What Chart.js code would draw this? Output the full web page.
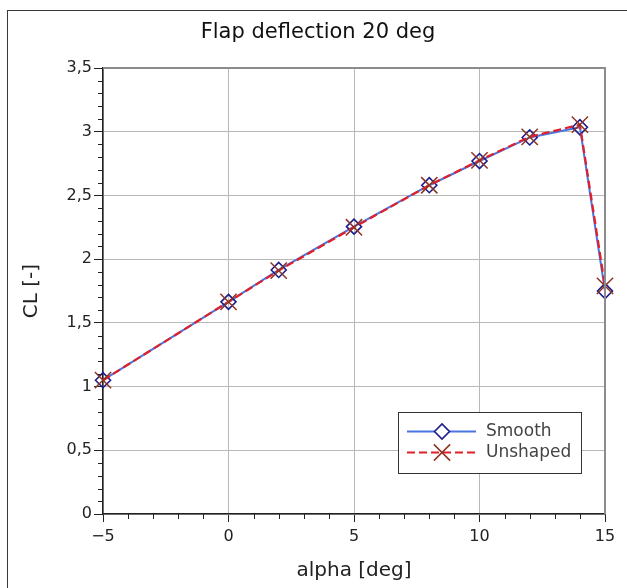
<!DOCTYPE html>
<html>
<head>
<meta charset="utf-8">
<script src="https://cdn.jsdelivr.net/npm/chart.js@4.4.1/dist/chart.umd.min.js"></script>
<style>
  body { margin: 0; background: #fff; }
  #wrap { position: relative; width: 627px; height: 588px; overflow: hidden; }
  #wrap canvas { position: absolute; left: 0; top: 0; }
  #frame { position: absolute; left: 7px; top: 10px; width: 640px; height: 600px;
           border-left: 1px solid #3a3a3a; border-top: 1px solid #3a3a3a; pointer-events: none; }
</style>
</head>
<body>
<div id="wrap">
  <canvas id="cl-chart" width="627" height="588"></canvas>
  <div id="frame"></div>
</div>
<script>
// Lift coefficient vs angle of attack, flap at 20 deg
const alpha = [-5, 0, 2, 5, 8, 10, 12, 14, 15];
const clSmooth = [1.05, 1.665, 1.915, 2.255, 2.58, 2.77, 2.955, 3.035, 1.75];
const clUnshaped = [1.05, 1.665, 1.91, 2.25, 2.58, 2.775, 2.96, 3.055, 1.79];
const seriesNames = ['Smooth', 'Unshaped'];
const chartTitle = 'Flap deflection 20 deg';

const FONT = "'DejaVu Sans', sans-serif";
const GRID = '#b8b8b8';
const AXIS = '#222';

Chart.defaults.font.family = FONT;
Chart.defaults.color = '#222';

const isMajorX = v => Math.abs(Math.round(v) % 5) === 0;
const isMajorY = v => Math.abs(v * 2 - Math.round(v * 2)) < 1e-6;
const fmt = v => String(Math.round(v * 10) / 10).replace('.', ',').replace('-', '\u2212');

const toPoints = ys => alpha.map((a, i) => ({ x: a, y: ys[i] }));

// title sits a little right of the canvas centre, so it is drawn by hand
const plotTitle = {
    id: 'plotTitle',
    afterDraw(chart) {
        const { ctx } = chart;
        ctx.save();
        ctx.fillStyle = '#111';
        ctx.font = '21px ' + FONT;
        ctx.textAlign = 'center';
        ctx.textBaseline = 'middle';
        ctx.fillText(chartTitle, 318, 33);
        ctx.restore();
    }
};

// short unlabeled ticks between the major ones, plus the grey top/right box edges
const minorTicks = {
    id: 'minorTicks',
    afterDraw(chart) {
        const { ctx, chartArea, scales: { x, y } } = chart;
        ctx.save();
        ctx.strokeStyle = AXIS;
        ctx.lineWidth = 1;
        ctx.beginPath();
        x.ticks.forEach(t => {
            if (isMajorX(t.value)) return;
            const px = Math.round(x.getPixelForValue(t.value)) + 0.5;
            ctx.moveTo(px, chartArea.bottom);
            ctx.lineTo(px, chartArea.bottom + 5);
        });
        y.ticks.forEach(t => {
            if (isMajorY(t.value)) return;
            const py = Math.round(y.getPixelForValue(t.value)) + 0.5;
            ctx.moveTo(chartArea.left - 5, py);
            ctx.lineTo(chartArea.left, py);
        });
        ctx.stroke();

        ctx.strokeStyle = '#8c8c8c';
        ctx.lineWidth = 2;
        ctx.beginPath();
        ctx.moveTo(chartArea.left, chartArea.top);
        ctx.lineTo(chartArea.right, chartArea.top);
        ctx.lineTo(chartArea.right, chartArea.bottom);
        ctx.stroke();
        ctx.restore();
    }
};

// boxed legend in the lower right of the plot, line sample with its marker
const boxLegend = {
    id: 'boxLegend',
    afterDraw(chart) {
        const { ctx, chartArea } = chart;
        const w = 183, h = 61;
        const left = chartArea.right - 24 - w;
        const top = chartArea.bottom - 41 - h;
        ctx.save();
        ctx.fillStyle = '#fff';
        ctx.fillRect(left, top, w, h);
        ctx.strokeStyle = '#333';
        ctx.lineWidth = 1;
        ctx.strokeRect(left + 0.5, top + 0.5, w, h);

        chart.data.datasets.forEach((ds, i) => {
            const rowY = top + 19.5 + i * 21;
            const x0 = left + 9, x1 = left + 78, xm = left + 44;
            ctx.strokeStyle = ds.borderColor;
            ctx.lineWidth = ds.borderWidth;
            ctx.setLineDash(ds.borderDash || []);
            ctx.beginPath();
            ctx.moveTo(x0, rowY);
            ctx.lineTo(x1, rowY);
            ctx.stroke();
            ctx.setLineDash([]);
            ctx.strokeStyle = ds.pointBorderColor;
            ctx.fillStyle = '#fff';
            ctx.lineWidth = ds.pointBorderWidth;
            Chart.helpers.drawPoint(ctx, {
                pointStyle: ds.pointStyle,
                radius: ds.pointRadius,
                rotation: 0,
                borderWidth: ds.pointBorderWidth
            }, xm, rowY);

            ctx.fillStyle = '#444';
            ctx.font = '17px ' + FONT;
            ctx.textBaseline = 'middle';
            ctx.textAlign = 'left';
            ctx.fillText(ds.label, left + 88, rowY);
        });
        ctx.restore();
    }
};

new Chart(document.getElementById('cl-chart'), {
    type: 'line',
    data: {
        datasets: [
            {
                label: seriesNames[0],
                data: toPoints(clSmooth),
                borderColor: '#4a74e0',
                borderWidth: 2,
                pointStyle: 'rectRot',
                pointRadius: 7.5,
                pointBorderColor: '#1c1c8c',
                pointBackgroundColor: 'rgba(0,0,0,0)',
                pointBorderWidth: 1.6,
                tension: 0,
                clip: false,
                order: 2
            },
            {
                label: seriesNames[1],
                data: toPoints(clUnshaped),
                borderColor: '#e0202a',
                borderWidth: 2.2,
                borderDash: [8, 4],
                pointStyle: 'crossRot',
                pointRadius: 11.5,
                pointBorderColor: '#8e3424',
                pointBackgroundColor: 'rgba(0,0,0,0)',
                pointBorderWidth: 1.5,
                tension: 0,
                clip: false,
                order: 1
            }
        ]
    },
    options: {
        responsive: false,
        animation: false,
        events: [],
        layout: { padding: { left: 0, right: 22, top: 68, bottom: 0 } },
        plugins: {
            legend: { display: false },
            tooltip: { enabled: false },
            title: { display: false }
        },
        scales: {
            x: {
                type: 'linear',
                min: -5,
                max: 15,
                afterFit: s => { s.height = 74; },
                ticks: {
                    stepSize: 1,
                    autoSkip: false,
                    maxRotation: 0,
                    padding: 5,
                    font: { size: 16 },
                    color: '#222',
                    callback: v => isMajorX(v) ? fmt(v) : ''
                },
                grid: {
                    color: c => (c.tick && isMajorX(c.tick.value)) ? GRID : 'rgba(0,0,0,0)',
                    tickColor: c => (c.tick && isMajorX(c.tick.value)) ? AXIS : 'rgba(0,0,0,0)',
                    tickLength: 8,
                    lineWidth: 1
                },
                border: { color: AXIS, width: 1.5 },
                title: {
                    display: true,
                    text: 'alpha [deg]',
                    color: '#222',
                    font: { size: 20 },
                    padding: { top: 0, bottom: 5 }
                }
            },
            y: {
                type: 'linear',
                min: 0,
                max: 3.5,
                afterFit: s => { s.width = 103; },
                ticks: {
                    stepSize: 0.1,
                    autoSkip: false,
                    padding: 2,
                    font: { size: 16 },
                    color: '#222',
                    callback: v => isMajorY(v) ? fmt(v) : ''
                },
                grid: {
                    color: c => (c.tick && isMajorY(c.tick.value)) ? GRID : 'rgba(0,0,0,0)',
                    tickColor: c => (c.tick && isMajorY(c.tick.value)) ? AXIS : 'rgba(0,0,0,0)',
                    tickLength: 9,
                    lineWidth: 1
                },
                border: { color: AXIS, width: 1.5 },
                title: {
                    display: true,
                    text: 'CL [-]',
                    color: '#222',
                    font: { size: 20 },
                    padding: { top: 20, bottom: 0 }
                }
            }
        }
    },
    plugins: [plotTitle, minorTicks, boxLegend]
});
</script>
</body>
</html>
